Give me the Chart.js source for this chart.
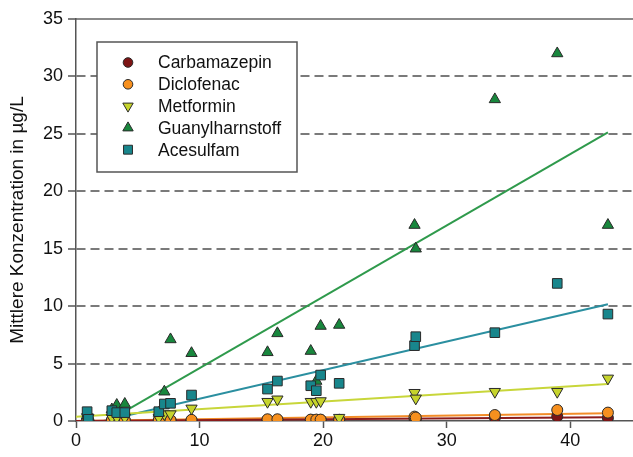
<!DOCTYPE html>
<html><head><meta charset="utf-8">
<script src="https://cdn.jsdelivr.net/npm/chart.js@4.4.1/dist/chart.umd.min.js"></script>
<style>html,body{margin:0;padding:0;background:#fff;}#wrap{width:633px;height:457px;position:relative;}</style>
</head><body><div id="wrap"><canvas id="c" width="633" height="457"></canvas></div>
<script>
// ---- data ----
const seriesNames = ["Carbamazepin", "Diclofenac", "Metformin", "Guanylharnstoff", "Acesulfam"];
const siteX = [0.9, 1.0, 2.9, 3.3, 3.95, 6.7, 7.15, 7.65, 9.35, 15.5, 16.3, 19.0, 19.45, 19.8, 21.3, 27.4, 27.5, 33.9, 38.95, 43.05];
const carbamazepin = [0.05, 0.05, 0.05, 0.05, 0.05, 0.05, 0.05, 0.05, 0.05, 0.1, 0.1, 0.1, 0.1, 0.1, 0.1, 0.2, 0.15, 0.3, 0.4, 0.27];
const diclofenac = [0.05, 0.05, 0.08, 0.08, 0.08, 0.08, 0.08, 0.08, 0.1, 0.15, 0.15, 0.12, 0.12, 0.12, 0.1, 0.38, 0.3, 0.52, 0.96, 0.73];
const metformin = [0.35, 0.3, 0.3, 0.3, 0.3, 0.3, 0.6, 0.6, 1.1, 1.68, 1.89, 1.68, 1.68, 1.74, 0.29, 2.46, 1.97, 2.55, 2.55, 3.71];
const guanylharnstoff = [0.5, 0.3, 1.0, 1.39, 1.48, 0.7, 2.55, 7.1, 5.9, 5.98, 7.63, 6.09, 3.48, 8.27, 8.36, 17.06, 15.0, 28.0, 32.0, 17.06];
const acesulfam = [0.81, 0.15, 0.9, 0.73, 0.73, 0.81, 1.48, 1.54, 2.26, 2.78, 3.48, 3.07, 2.64, 4.0, 3.28, 6.56, 7.34, 7.69, 11.98, 9.31];
// linear trend lines (intercept, slope)
const trendIntercepts = [0.0, 0.0, 0.37, -1.61, -0.55];
const trendSlopes = [0.0075, 0.0155, 0.066, 0.621, 0.249];
const xTicks = [0, 10, 20, 30, 40];
const yTicks = [0, 5, 10, 15, 20, 25, 30, 35];
const yTitle = "Mittlere Konzentration in µg/L";

// ---- styles ----
const fills = ["#7d1414", "#f7901e", "#c6d42c", "#18873d", "#18868c"];
const lineColors = ["#8b1c1c", "#f28c28", "#c8d63a", "#2f9a4c", "#2b8fa0"];
const styles = ["circle", "circle", "triangle", "triangle", "rect"];
const rotations = [0, 0, 180, 0, 0];
const radii = [5.5, 5.5, 6.5, 6.5, 6.8];
const legendRadii = [4.8, 4.8, 6, 6, 6.3];
const seriesValues = [carbamazepin, diclofenac, metformin, guanylharnstoff, acesulfam];
const FONT = '"Liberation Sans", Arial, sans-serif';

const xMaxData = Math.max(...siteX);
const datasets = [];
seriesValues.forEach((vals, i) => {
  datasets.push({
    label: seriesNames[i],
    data: siteX.map((x, k) => ({x: x, y: vals[k]})),
    pointStyle: styles[i], rotation: rotations[i], pointRadius: radii[i],
    backgroundColor: fills[i], pointBackgroundColor: fills[i],
    pointBorderColor: "#2a2a2a", pointBorderWidth: 1,
    showLine: false, order: 4 - i, xAxisID: "x", yAxisID: "y"
  });
});
seriesValues.forEach((vals, i) => {
  datasets.push({
    label: seriesNames[i] + " Trend",
    type: "line",
    data: [0, xMaxData].map(x => ({x: x, y: trendIntercepts[i] + trendSlopes[i] * x})),
    borderColor: lineColors[i], borderWidth: 2, pointRadius: 0, showLine: true,
    fill: false, order: 10, clip: 0, xAxisID: "x", yAxisID: "y"
  });
});

const boxLegend = {
  id: "boxLegend",
  afterDatasetsDraw(chart) {
    const {ctx, chartArea: a} = chart;
    const x0 = a.left + 21, y0 = a.top + 23, w = 200, h = 130;
    ctx.save();
    ctx.fillStyle = "#fff"; ctx.fillRect(x0, y0, w, h);
    ctx.strokeStyle = "#555"; ctx.lineWidth = 1.5; ctx.strokeRect(x0, y0, w, h);
    ctx.font = "17.5px " + FONT; ctx.textBaseline = "middle"; ctx.textAlign = "left";
    seriesNames.forEach((n, i) => {
      const cy = y0 + 20.5 + i * 21.8;
      ctx.fillStyle = fills[i]; ctx.strokeStyle = "#2a2a2a"; ctx.lineWidth = 1;
      Chart.helpers.drawPoint(ctx, {pointStyle: styles[i], rotation: rotations[i], radius: legendRadii[i], borderWidth: 1}, x0 + 31, cy);
      ctx.fillStyle = "#111";
      ctx.fillText(n, x0 + 61, cy + 1);
    });
    ctx.restore();
  }
};

new Chart(document.getElementById("c"), {
  type: "scatter",
  data: {datasets: datasets},
  options: {
    responsive: false, animation: false, devicePixelRatio: 1,
    layout: {autoPadding: false, padding: {top: 19, right: 1, left: 0, bottom: 0}},
    plugins: {legend: {display: false}, tooltip: {enabled: false}},
    scales: {
      x: {
        type: "linear", position: "bottom", min: 0, max: 45,
        afterBuildTicks: s => { s.ticks = xTicks.map(v => ({value: v})); },
        afterFit: s => { s.height = 36; s.paddingRight = 0; s.paddingLeft = 0; },
        ticks: {font: {size: 18, family: FONT}, color: "#111", padding: 2, maxRotation: 0},
        grid: {drawOnChartArea: false, drawTicks: true, tickLength: 7, tickColor: "#555", tickWidth: 1.5},
        border: {display: true, color: "#555", width: 1.5}
      },
      x2: {
        type: "linear", position: "top", min: 0, max: 45, display: true,
        afterFit: s => { s.height = 0; s.paddingRight = 0; s.paddingLeft = 0; },
        ticks: {display: false}, grid: {display: false},
        border: {display: true, color: "#8a8a8a", width: 2}
      },
      y: {
        type: "linear", min: 0, max: 35,
        afterBuildTicks: s => { s.ticks = yTicks.map(v => ({value: v})); },
        afterFit: s => { s.width = 76; s.paddingTop = 0; s.paddingBottom = 0; },
        ticks: {font: {size: 18, family: FONT}, color: "#111", padding: 5},
        grid: {
          color: c => (c.tick && (c.tick.value === 0 || c.tick.value === 35)) ? "rgba(0,0,0,0)" : "#7a7a7a",
          lineWidth: 2, tickLength: 8, tickColor: "#555", tickWidth: 1.5, drawTicks: true
        },
        border: {display: true, color: "#555", width: 1.5, dash: [9, 5]},
        title: {display: true, text: yTitle, font: {size: 19, family: FONT}, color: "#111", padding: {top: 6, bottom: 0}}
      }
    }
  },
  plugins: [boxLegend]
});
</script></body></html>
